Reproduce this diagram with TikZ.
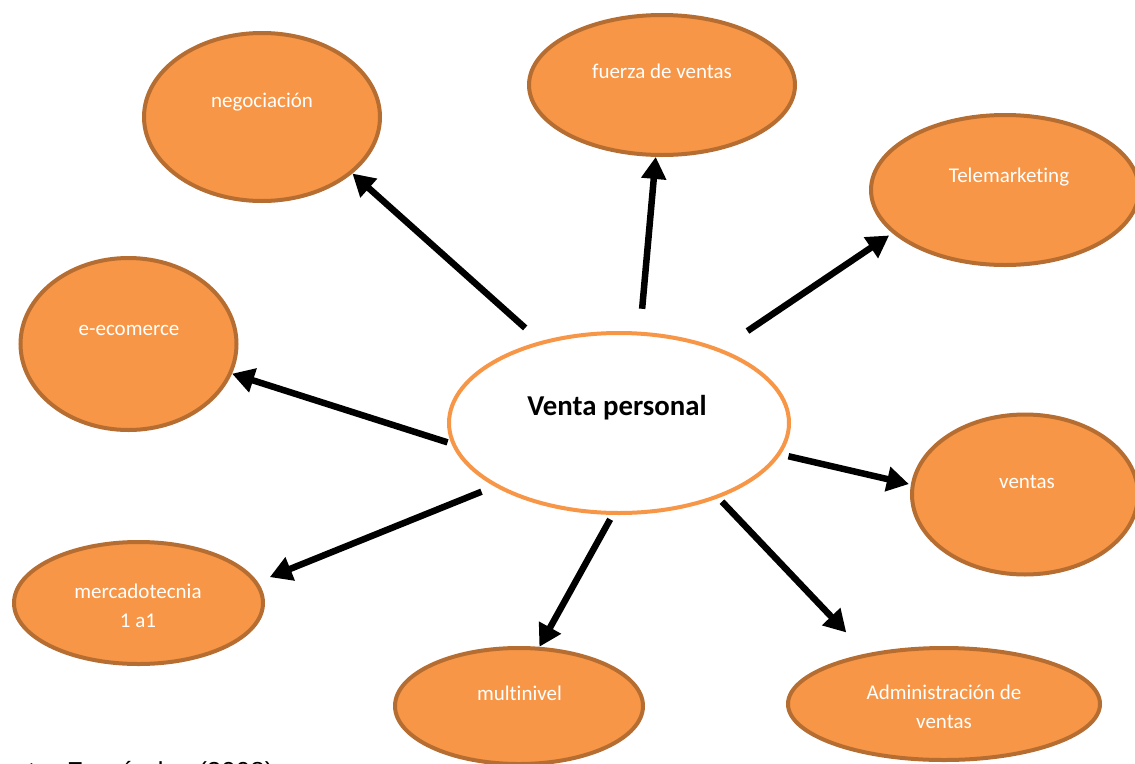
\documentclass[tikz,border=0pt]{standalone}
\usepackage{fontspec}
\setmainfont{Carlito}[Ligatures=NoCommon]
\newfontfamily\arialfont{Liberation Sans}
\usepackage{tikz}
\usetikzlibrary{arrows.meta, shapes.geometric}
\definecolor{bubfill}{HTML}{F79646}
\definecolor{bubline}{HTML}{B66D31}

\begin{document}
\begin{tikzpicture}[
x=1pt, y=-1pt,
bubble/.style={draw=bubline, fill=bubfill, ellipse, line width=4pt, inner sep=0pt},
hub/.style={draw=bubfill, fill=white, ellipse, line width=4pt, inner sep=0pt},
txt/.style={text=white, font=\fontsize{21}{29}\selectfont, align=center},
arr/.style={-{Triangle[length=22pt, width=24pt]}, line width=6.5pt}
]
\useasboundingbox (0,0) rectangle (1135,763);

\node[hub, minimum width=340pt, minimum height=180pt] (vp) at (619,423) {};

\node[bubble, minimum width=236pt, minimum height=168pt] (neg) at (262,117) {};
\node[bubble, minimum width=266pt, minimum height=140pt] (fuerza) at (662,85) {};
\node[bubble, minimum width=268pt, minimum height=150pt] (tele) at (1005,190) {};
\node[bubble, minimum width=216pt, minimum height=172pt] (ecom) at (128.5,344) {};
\node[bubble, minimum width=226pt, minimum height=160pt] (ventas) at (1025,494.5) {};
\node[bubble, minimum width=249pt, minimum height=122pt] (merca) at (138.5,603) {};
\node[bubble, minimum width=248pt, minimum height=116pt] (multi) at (519,706) {};
\node[bubble, minimum width=312pt, minimum height=112pt] (admin) at (944,704) {};

% texts
\node[font=\bfseries\fontsize{28.8}{34}\selectfont] (vpT) at (617,408) {Venta personal};
\node[txt] (negT) at (262,102) {negociación};
\node[txt] (fuerzaT) at (662,71) {fuerza de ventas};
\node[txt] (teleT) at (1009,177) {Telemarketing};
\node[txt] (ecomT) at (129,330) {e-ecomerce};
\node[txt] (ventasT) at (1027,482) {ventas};
\node[txt] (mercaT) at (138,606) {mercadotecnia\\1 a1};
\node[txt] (multiT) at (519.5,693) {multinivel};
\node[txt] (adminT) at (944,707) {Administración de\\ventas};

% arrows
\draw[arr, shorten <=20pt] (vp.134.4) -- (neg.-32.5);
\draw[arr, shorten <=23pt] (vp.77.8) -- (fuerza.-95.5);
\draw[arr, shorten <=32pt, shorten >=4pt] (vp.36.6) -- (tele.201.3);
\draw[arr, shorten <=4pt] (vp.187.9) -- (ecom.-16.5);
\draw[arr, shorten <=8pt, shorten >=2pt] (vp.-11.6) -- (ventas.175.9);
\draw[arr, shorten <=14pt, shorten >=13pt] (vp.207.1) -- (merca.10.6);
\draw[arr, shorten <=5pt] (vp.266) -- (multi.71.9);
\draw[arr, shorten <=5pt, shorten >=29pt] (vp.-37.8) -- (admin.147.2);

\node[anchor=base east, font=\arialfont\fontsize{26}{30}\selectfont] (src) at (277,780) {Fuente: Fernández (2008)};

\end{tikzpicture}
\end{document}
